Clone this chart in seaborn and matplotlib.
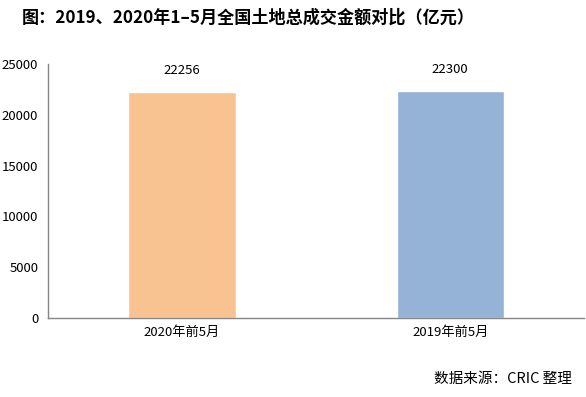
import matplotlib
matplotlib.use("Agg")
import matplotlib.pyplot as plt
import seaborn as sns
import pandas as pd

categories = ["2020年前5月", "2019年前5月"]
values = [22256, 22300]
colors = ["#F9C291", "#95B3D7"]
yticks = [0, 5000, 10000, 15000, 20000, 25000]

sns.set_style("white")
plt.rcParams['font.family'] = ['Noto Sans CJK SC', 'DejaVu Sans']
plt.rcParams['text.color'] = 'black'
plt.rcParams['xtick.color'] = 'black'
plt.rcParams['ytick.color'] = 'black'

df = pd.DataFrame({"cat": categories, "val": values})

fig = plt.figure(figsize=(5.86, 3.97), dpi=100)
ax = fig.add_axes([0.082, 0.199, 0.915, 0.64])
sns.barplot(data=df, x="cat", y="val", hue="cat", palette=colors, width=0.4,
            legend=False, ax=ax, saturation=1)

ax.set_ylim(0, 25000)
ax.set_yticks(yticks)
ax.set_xlim(-0.5, 1.5)
ax.set_xticks([-0.5, 0.5, 1.5], minor=True)
ax.set_xticks([0, 1])
ax.set_xticklabels(categories)
ax.tick_params(axis='x', which='major', length=0, labelsize=9.5, pad=6)
ax.tick_params(axis='x', which='minor', length=5, color="#868686", direction='out')
ax.tick_params(axis='y', length=5, color="#868686", labelsize=9.5, direction='out', pad=2)
ax.set_xlabel("")
ax.set_ylabel("")
for s in ["top", "right"]:
    ax.spines[s].set_visible(False)
for s in ["left", "bottom"]:
    ax.spines[s].set_color("#868686")
    ax.spines[s].set_linewidth(1)

for i, v in enumerate(values):
    ax.text(i, v + 1500, str(v), ha="center", va="bottom", fontsize=9.5)

fig.text(0.423, 0.955, "图：2019、2020年1–5月全国土地总成交金额对比（亿元）",
         ha="center", va="center", fontsize=12.3, fontweight="bold")
fig.text(0.976, 0.045, "数据来源：CRIC 整理", ha="right", va="center", fontsize=10.5)

fig.savefig("out.png", dpi=100)
